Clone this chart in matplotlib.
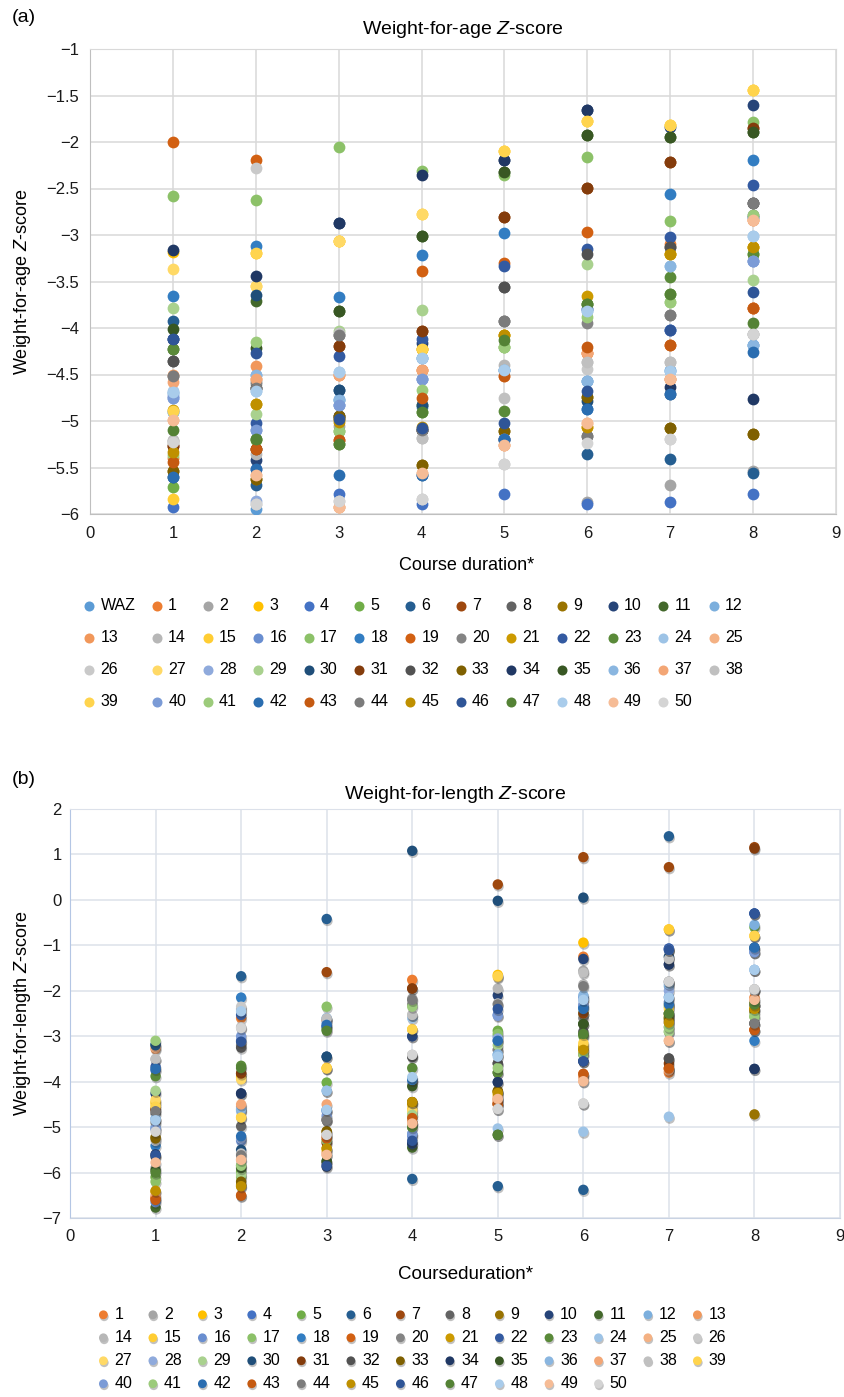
import matplotlib
matplotlib.use("Agg")
import matplotlib.pyplot as plt
import matplotlib.patheffects as pe
from matplotlib.ticker import FuncFormatter

plt.rcParams['font.family'] = ['Liberation Sans', 'DejaVu Sans']
plt.rcParams['mathtext.fontset'] = 'custom'
plt.rcParams['mathtext.rm'] = 'Liberation Sans'
plt.rcParams['mathtext.it'] = 'Liberation Sans:italic'

# course duration on the x axis
durations = [1, 2, 3, 4, 5, 6, 7, 8]

# series names: panel (a) has WAZ + 1..50, panel (b) has 1..50
waz_names = ['WAZ'] + [str(i) for i in range(1, 51)]
wlz_names = [str(i) for i in range(1, 51)]

# excel-like palette, one colour per series (WAZ first)
colors = ['#5B9BD5', '#ED7D31', '#A5A5A5', '#FFC000', '#4472C4', '#70AD47',
          '#255E91', '#9E480E', '#636363', '#997300', '#264478', '#43682B',
          '#7CAFDD', '#F1975A', '#B7B7B7', '#FFCD33', '#698ED0', '#8CC168',
          '#327DC2', '#D26012', '#848484', '#CC9A00', '#335AA1', '#5A8A39',
          '#9DC3E6', '#F4B183', '#C9C9C9', '#FFD966', '#8FAADC', '#A9D18E',
          '#1F4E79', '#843C0C', '#525252', '#7F6000', '#203864', '#385723',
          '#8AB6E0', '#F3A675', '#C0C0C0', '#FFD44D', '#7B9BD6', '#9CCB7B',
          '#2A6DB0', '#C55A11', '#7B7B7B', '#BF9000', '#2F5597', '#548235',
          '#A9CCEB', '#F6BC96', '#D4D4D4']

# weight-for-age z-score, one list per duration (index = series WAZ,1..50)
waz_d1 = [-4.7, -5.4, -5.25, -3.18, -5.93, -5.71, -3.92, -5.27, -4.35, -5.54,
          -4.12, -4.23, -4.9, -4.5, -5.2, -5.84, -4.73, -2.58, -3.66, -2.0,
          -4.52, -4.88, -4.12, -4.23, -4.68, -4.99, -5.22, -3.37, -4.75, -3.78,
          -5.6, -5.27, -4.35, -5.54, -3.16, -4.01, -4.9, -4.58, -5.22, -4.89,
          -4.75, -5.37, -5.6, -5.44, -4.52, -5.33, -4.12, -5.1, -4.69, -4.99, -5.23]
waz_d2 = [-5.95, -4.55, -4.6, -3.19, -5.52, -5.2, -5.69, -5.3, -4.64, -5.62,
          -5.42, -3.71, -4.5, -4.41, -5.35, -3.55, -5.1, -2.62, -3.12, -2.19,
          -4.58, -4.82, -5.02, -5.19, -4.68, -5.58, -2.28, -3.55, -5.86, -4.92,
          -3.65, -5.3, -4.64, -5.62, -3.44, -4.22, -4.5, -4.55, -5.89, -3.19,
          -5.1, -4.15, -5.52, -5.3, -4.64, -4.82, -4.27, -5.19, -4.68, -5.58, -5.89]
waz_d3 = [-4.77, -4.5, -5.05, -3.06, -5.78, -5.11, -4.67, -4.19, -4.95, -4.97,
          -2.87, -3.82, -4.76, -5.92, -4.07, -3.06, -4.83, -2.05, -3.67, -5.2,
          -4.07, -4.98, -4.3, -5.25, -4.47, -5.92, -5.86, -3.06, -4.83, -4.03,
          -4.67, -4.19, -4.95, -4.95, -2.87, -3.82, -4.77, -4.5, -4.05, -4.99,
          -4.83, -5.11, -5.58, -5.2, -4.08, -5.01, -4.98, -5.25, -4.47, -5.92, -5.86]
waz_d4 = [-4.85, -4.45, -5.1, -4.23, -5.89, -4.9, -5.58, -4.03, -5.1, -5.47,
          -4.16, -3.01, -4.32, -4.45, -5.18, -2.77, -4.55, -2.31, -3.21, -3.39,
          -5.1, -4.23, -4.12, -4.83, -4.32, -5.56, -5.84, -2.77, -4.55, -3.81,
          -4.83, -4.03, -5.1, -5.47, -2.35, -3.01, -4.32, -4.45, -5.18, -4.23,
          -4.55, -4.67, -5.58, -4.75, -5.1, -5.06, -5.07, -4.9, -4.32, -5.56, -5.84]
waz_d5 = [-4.45, -5.19, -3.92, -4.08, -5.79, -4.2, -5.19, -2.81, -3.56, -5.11,
          -2.19, -2.32, -4.45, -5.26, -4.4, -2.1, -5.19, -2.35, -2.98, -3.3,
          -3.92, -4.08, -3.33, -4.89, -4.45, -5.26, -5.46, -2.1, -5.19, -4.2,
          -5.2, -2.81, -3.56, -5.11, -2.19, -2.32, -4.45, -4.52, -4.75, -2.1,
          -5.19, -4.2, -5.19, -4.52, -3.92, -4.08, -5.02, -4.13, -4.45, -5.26, -5.46]
waz_d6 = [-4.57, -4.27, -5.87, -5.06, -5.89, -3.74, -5.35, -2.49, -5.16, -4.74,
          -1.66, -1.92, -4.57, -4.27, -4.37, -1.77, -3.8, -2.16, -4.87, -2.97,
          -3.95, -3.66, -3.15, -3.74, -3.82, -5.02, -4.44, -1.77, -3.8, -3.31,
          -4.78, -2.49, -3.2, -4.74, -1.66, -1.92, -4.57, -4.27, -4.37, -1.77,
          -3.8, -3.88, -4.87, -4.2, -5.16, -5.06, -4.68, -3.74, -3.82, -5.02, -5.24]
waz_d7 = [-4.45, -3.1, -5.69, -3.2, -5.87, -3.63, -5.41, -2.21, -3.13, -5.07,
          -1.84, -1.95, -4.46, -4.55, -4.37, -1.82, -4.02, -2.85, -2.56, -4.18,
          -3.86, -3.2, -3.02, -3.45, -3.33, -4.55, -5.19, -1.82, -4.02, -3.72,
          -4.71, -2.21, -3.13, -5.07, -4.63, -1.95, -3.33, -4.55, -4.37, -1.82,
          -4.02, -3.72, -4.71, -4.18, -3.86, -3.2, -4.02, -3.63, -4.46, -4.55, -5.19]
waz_d8 = [-4.18, -2.84, -5.54, -3.13, -5.79, -3.2, -5.56, -1.85, -2.66, -5.14,
          -1.6, -1.89, -4.18, -3.79, -4.06, -1.44, -3.28, -1.78, -2.19, -3.79,
          -2.78, -3.13, -2.46, -3.2, -3.01, -2.84, -4.06, -1.44, -3.28, -3.48,
          -2.81, -1.85, -2.66, -5.14, -4.76, -1.89, -4.18, -3.79, -4.06, -1.44,
          -3.28, -2.78, -4.26, -3.79, -2.66, -3.13, -3.61, -3.95, -3.01, -2.84, -4.06]

# weight-for-length z-score, one list per duration (index = series 1..50)
wlz_d1 = [-6.58, -5.9, -4.45, -3.75, -6.1, -3.18, -4.6, -4.7, -5.22, -4.26,
          -6.77, -5.0, -3.28, -3.51, -4.5, -6.65, -6.2, -5.41, -6.55, -4.9,
          -6.42, -3.67, -3.88, -4.81, -3.25, -5.3, -4.4, -5.03, -4.2, -3.2,
          -4.62, -5.65, -5.25, -5.6, -5.95, -4.82, -6.5, -3.5, -4.55, -5.05,
          -3.1, -3.72, -6.6, -4.65, -6.4, -5.62, -6.0, -4.85, -5.78, -5.1]
wlz_d2 = [-2.6, -2.4, -3.9, -3.1, -5.98, -1.68, -3.82, -4.98, -6.27, -4.26,
          -5.85, -4.62, -4.55, -2.8, -4.78, -5.3, -6.1, -2.15, -6.51, -3.2,
          -6.3, -2.53, -3.65, -4.65, -5.72, -2.35, -3.95, -5.25, -6.05, -5.5,
          -3.82, -3.25, -6.2, -4.26, -5.9, -4.6, -4.5, -5.58, -4.79, -3.0,
          -5.85, -5.2, -6.5, -5.62, -6.3, -3.12, -3.7, -2.45, -5.72, -2.82]
wlz_d3 = [-2.65, -2.62, -3.7, -2.8, -4.02, -0.42, -1.59, -4.84, -5.09, -3.45,
          -5.75, -4.2, -5.55, -4.8, -3.7, -4.65, -2.35, -4.62, -5.2, -4.85,
          -5.47, -2.78, -2.85, -4.2, -5.61, -5.17, -5.5, -2.7, -5.3, -3.45,
          -5.35, -5.8, -5.1, -5.87, -5.75, -2.6, -4.5, -2.61, -3.71, -4.75,
          -5.3, -2.75, -5.25, -4.84, -5.47, -5.85, -2.88, -4.62, -5.61, -5.17]
wlz_d4 = [-1.76, -2.17, -2.85, -3.0, -5.0, -6.14, -1.95, -3.45, -4.45, -3.0,
          -5.45, -5.15, -4.0, -3.41, -4.6, -5.2, -4.73, -3.96, -4.9, -2.3,
          -4.5, -5.36, -3.7, -2.6, -4.92, -2.53, -4.65, -4.0, -4.73, 1.08,
          -1.95, -3.45, -4.45, -5.36, -4.1, -3.96, -4.9, -2.53, -2.85, -5.15,
          -2.35, -3.96, -4.8, -2.2, -4.45, -5.3, -5.0, -3.9, -4.92, -3.41]
wlz_d5 = [-4.45, -3.3, -1.65, -2.53, -2.88, -6.3, 0.34, -3.6, -4.22, -2.1,
          -3.8, -3.41, -4.4, -1.95, -4.3, -3.0, -2.95, -3.1, -4.48, -3.3,
          -4.22, -4.01, -3.8, -5.03, -4.34, -2.28, -1.7, -3.05, -3.2, -0.02,
          -4.5, -3.6, -4.2, -4.01, -5.17, -3.4, -4.38, -4.6, -1.68, -2.55,
          -3.7, -3.1, -4.5, -2.3, -4.25, -2.4, -5.17, -3.45, -4.38, -4.6]
wlz_d6 = [-1.25, -1.56, -0.94, -2.35, -2.5, -6.38, 0.94, -2.73, -3.3, -1.3,
          -2.73, -2.15, -3.9, -1.86, -3.2, -2.15, -3.0, -2.35, -3.83, -2.6,
          -3.25, -3.55, -2.97, -5.1, -3.99, -4.48, -3.35, -2.2, -2.5, 0.05,
          -2.5, -2.9, -3.4, -3.55, -2.73, -2.1, -3.85, -1.6, -3.15, -2.3,
          -3.4, -2.4, -3.83, -1.9, -3.3, -3.55, -2.95, -2.2, -3.99, -4.48]
wlz_d7 = [-3.8, -2.8, -0.65, -2.25, -2.35, 1.4, 0.72, -3.49, -2.6, -1.42,
          -2.5, -1.9, -3.7, -1.25, -0.65, -1.07, -2.9, -2.14, -3.71, -2.7,
          -2.55, -1.07, -2.6, -4.77, -3.1, -1.8, -2.3, -2.0, -2.9, -1.25,
          -3.6, -3.49, -2.65, -1.42, -2.5, -1.85, -3.75, -1.3, -2.4, -1.1,
          -2.8, -2.3, -3.71, -1.8, -2.7, -1.1, -2.5, -2.15, -3.1, -1.8]
wlz_d8 = [-2.15, -1.97, -0.79, -0.3, -0.6, -1.1, 1.16, -2.72, -4.72, -3.72,
          -2.3, -0.55, -2.86, -1.97, -2.4, -1.15, -2.57, -3.1, -2.86, -2.3,
          -2.4, -0.3, -2.25, -1.54, -2.2, -2.0, -0.8, -1.15, -2.5, -1.05,
          1.13, -2.72, -2.45, -3.72, -2.3, -1.54, -2.3, -1.97, -0.79, -1.15,
          -2.57, -1.05, -2.86, -2.72, -2.4, -0.3, -2.3, -1.54, -2.2, -1.97]

waz_cols = [waz_d1, waz_d2, waz_d3, waz_d4, waz_d5, waz_d6, waz_d7, waz_d8]
wlz_cols = [wlz_d1, wlz_d2, wlz_d3, wlz_d4, wlz_d5, wlz_d6, wlz_d7, wlz_d8]


def row_major(n, ncol=13):
    # matplotlib fills legends column by column, reorder so it reads by rows
    nrow = -(-n // ncol)
    return [r * ncol + c for c in range(ncol) for r in range(nrow) if r * ncol + c < n]


def minus_fmt(v, pos):
    return ('%g' % v).replace('-', '\u2212')


W, H = 845, 1397
fig = plt.figure(figsize=(W / 100, H / 100), dpi=100)

# ---------------- panel (a) ----------------
ax1 = fig.add_axes([90 / W, 1 - 514 / H, 746 / W, 465 / H])
hs = []
for k, name in enumerate(waz_names):
    ys = [col[k] for col in waz_cols]
    h = ax1.scatter(durations, ys, s=72, color=colors[k], label=name, zorder=3, linewidths=0)
    hs.append(h)

ax1.set_xlim(0, 9)
ax1.set_ylim(-6, -1)
ax1.set_xticks(range(0, 10))
ax1.set_yticks([-6, -5.5, -5, -4.5, -4, -3.5, -3, -2.5, -2, -1.5, -1])
ax1.yaxis.set_major_formatter(FuncFormatter(minus_fmt))
ax1.grid(color='#D9D9D9', linewidth=1.1, zorder=0)
ax1.set_axisbelow(True)
for sp in ax1.spines.values():
    sp.set_color('#D9D9D9')
ax1.spines['left'].set_color('#BFBFBF')
ax1.spines['bottom'].set_color('#BFBFBF')
ax1.tick_params(length=0, labelsize=12, colors='#1a1a1a')
ax1.tick_params(axis='x', pad=9)
ax1.tick_params(axis='y', pad=8)
ax1.set_title('Weight-for-age $\\mathit{Z}$-score', fontsize=14, pad=11)
ax1.set_xlabel('Course duration*', fontsize=13)
ax1.set_ylabel('Weight-for-age $\\mathit{Z}$-score', fontsize=13)
ax1.xaxis.set_label_coords(0.505, -0.092)
ax1.yaxis.set_label_coords(-0.076, 0.5)

order = row_major(len(hs))
ax1.legend([hs[i] for i in order], [waz_names[i] for i in order],
           loc='upper left', bbox_to_anchor=(83 / W, 1 - 598 / H),
           bbox_transform=fig.transFigure, ncol=13, frameon=False,
           fontsize=11.5, handlelength=0.8, handletextpad=0.3,
           columnspacing=0.95, labelspacing=1.06, borderpad=0,
           borderaxespad=0, markerscale=0.85, scatterpoints=1)

fig.text(12 / W, 1 - 17 / H, '(a)', fontsize=14, va='center', ha='left')

# ---------------- panel (b) ----------------
ax2 = fig.add_axes([70 / W, 1 - 1218 / H, 770 / W, 409 / H])
shadow = [pe.SimplePatchShadow(offset=(0.6, -1.4), shadow_rgbFace='#333333', alpha=0.3),
          pe.Normal()]
hs2 = []
for k, name in enumerate(wlz_names):
    ys = [col[k] for col in wlz_cols]
    h = ax2.scatter(durations, ys, s=56, color=colors[k + 1], label=name, zorder=3, linewidths=0)
    h.set_path_effects(shadow)
    hs2.append(h)

ax2.set_xlim(0, 9)
ax2.set_ylim(-7, 2)
ax2.set_xticks(range(0, 10))
ax2.set_yticks(range(-7, 3))
ax2.yaxis.set_major_formatter(FuncFormatter(minus_fmt))
ax2.grid(color='#DCE1EA', linewidth=1.1, zorder=0)
ax2.set_axisbelow(True)
for sp in ax2.spines.values():
    sp.set_color('#DCE1EA')
ax2.spines['left'].set_color('#B4C6E4')
ax2.spines['bottom'].set_color('#C9D3E3')
ax2.tick_params(length=0, labelsize=12, colors='#1a1a1a')
ax2.tick_params(axis='x', pad=8)
ax2.tick_params(axis='y', pad=6)
ax2.set_title('Weight-for-length $\\mathit{Z}$-score', fontsize=14, pad=7)
ax2.set_xlabel('Courseduration*', fontsize=13.5)
ax2.set_ylabel('Weight-for-length $\\mathit{Z}$-score', fontsize=13)
ax2.xaxis.set_label_coords(0.514, -0.117)
ax2.yaxis.set_label_coords(-0.048, 0.5)

order2 = row_major(len(hs2))
ax2.legend([hs2[i] for i in order2], [wlz_names[i] for i in order2],
           loc='upper left', bbox_to_anchor=(97 / W, 1 - 1307 / H),
           bbox_transform=fig.transFigure, ncol=13, frameon=False,
           fontsize=11.5, handlelength=0.8, handletextpad=0.3,
           columnspacing=0.88, labelspacing=0.5, borderpad=0,
           borderaxespad=0, markerscale=0.85, scatterpoints=1)

fig.text(12 / W, 1 - 780 / H, '(b)', fontsize=14, va='center', ha='left')

plt.savefig('out.png', dpi=100)
